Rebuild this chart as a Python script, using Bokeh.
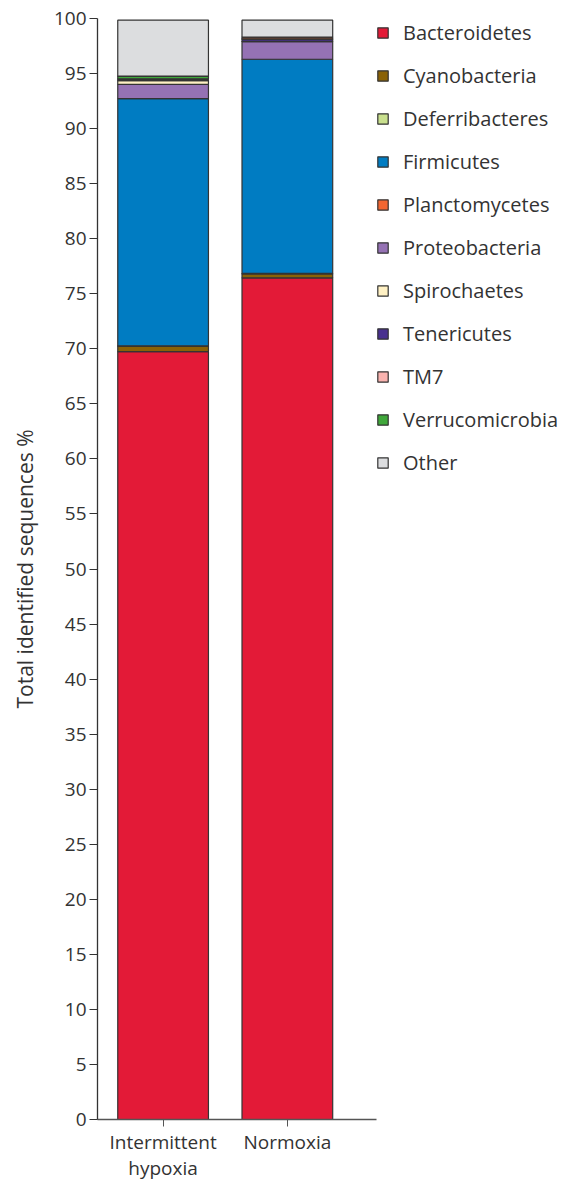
from bokeh.plotting import figure
from bokeh.models import Range1d, Legend, LegendItem, ColumnDataSource, FixedTicker
from bokeh.embed import file_html
from bokeh.resources import INLINE

groups = ["Intermittent\nhypoxia", "Normoxia"]
group_pos = [0, 1]

phyla = ["Bacteroidetes", "Cyanobacteria", "Deferribacteres", "Firmicutes",
         "Planctomycetes", "Proteobacteria", "Spirochaetes", "Tenericutes",
         "TM7", "Verrucomicrobia", "Other"]
colors = ["#E31A37", "#8A6206", "#C9E08E", "#007CC2", "#F26631", "#9572B4",
          "#FFF1C4", "#48308F", "#F9B3AF", "#3FA73A", "#DCDDDF"]

bacteroidetes = [69.75, 76.45]
cyanobacteria = [0.50, 0.35]
deferribacteres = [0.02, 0.05]
firmicutes = [22.45, 19.45]
planctomycetes = [0.00, 0.15]
proteobacteria = [1.30, 1.60]
spirochaetes = [0.33, 0.02]
tenericutes = [0.12, 0.20]
tm7 = [0.05, 0.02]
verrucomicrobia = [0.25, 0.02]
other = [5.08, 1.54]

series = [bacteroidetes, cyanobacteria, deferribacteres, firmicutes, planctomycetes,
          proteobacteria, spirochaetes, tenericutes, tm7, verrucomicrobia, other]

# stacking order (bottom to top) as drawn in the chart
stack_order = ["Bacteroidetes", "Cyanobacteria", "Deferribacteres", "Firmicutes",
               "Proteobacteria", "Spirochaetes", "Tenericutes", "TM7",
               "Verrucomicrobia", "Planctomycetes", "Other"]

data = {"x": group_pos}
for name, vals in zip(phyla, series):
    data[name] = vals
src = ColumnDataSource(data)
col_of = dict(zip(phyla, colors))

FONT = "Open Sans"
TXT = "#333333"

p = figure(frame_width=279, frame_height=1101,
           x_range=Range1d(-0.528, 1.7175), y_range=Range1d(0, 100),
           min_border_left=97, min_border_top=18, min_border_right=6,
           min_border_bottom=60,
           output_backend="svg", toolbar_location=None)
p.outline_line_color = None
p.xgrid.visible = False
p.ygrid.visible = False

rs = p.vbar_stack(stack_order, x="x", width=0.73, source=src,
                  color=[col_of[s] for s in stack_order],
                  line_color="#333333", line_width=1.2)
r_of = dict(zip(stack_order, rs))

items = [LegendItem(label=name, renderers=[r_of[name]]) for name in phyla]
legend = Legend(items=items, location="top_left", orientation="vertical",
                glyph_width=13, glyph_height=13, label_height=28,
                spacing=15, padding=2, margin=0, label_standoff=14,
                label_text_font=FONT, label_text_font_size="20px",
                label_text_color=TXT,
                border_line_color=None, background_fill_alpha=0)
p.add_layout(legend, "right")

p.yaxis.ticker = FixedTicker(ticks=list(range(0, 101, 5)))
p.yaxis.axis_label = "Total identified sequences %"
p.yaxis.axis_label_text_font = FONT
p.yaxis.axis_label_text_font_style = "normal"
p.yaxis.axis_label_text_font_size = "21px"
p.yaxis.axis_label_text_color = TXT
p.yaxis.axis_label_standoff = 12
p.yaxis.major_label_text_font = FONT
p.yaxis.major_label_text_font_size = "19px"
p.yaxis.major_label_text_color = TXT
p.yaxis.major_tick_in = 0
p.yaxis.major_tick_out = 8
p.yaxis.minor_tick_out = 0
p.yaxis.minor_tick_in = 0
p.yaxis.major_label_standoff = 3
p.yaxis.axis_line_color = "#333333"
p.yaxis.major_tick_line_color = "#333333"
p.yaxis.axis_line_width = 1.3

p.xaxis.ticker = FixedTicker(ticks=group_pos)
p.xaxis.major_label_overrides = {pos: g for pos, g in zip(group_pos, groups)}
p.xaxis.major_label_text_font = FONT
p.xaxis.major_label_text_font_size = "19px"
p.xaxis.major_label_text_line_height = 1.0
p.xaxis.major_label_text_color = TXT
p.xaxis.major_tick_in = 0
p.xaxis.major_tick_out = 7
p.xaxis.minor_tick_out = 0
p.xaxis.minor_tick_in = 0
p.xaxis.axis_line_color = "#555555"
p.xaxis.major_tick_line_color = "#555555"
p.xaxis.axis_line_width = 1.3
p.xaxis.major_label_standoff = 2

open("out.html", "w").write(file_html(p, INLINE))
